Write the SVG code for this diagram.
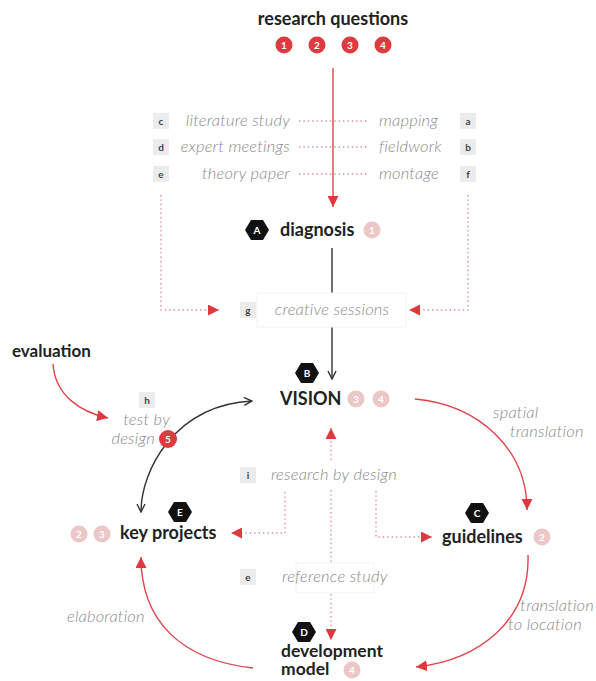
<svg xmlns="http://www.w3.org/2000/svg" width="596" height="681" viewBox="0 0 596 681">
<style>
.bold{font-family:Lato,"Open Sans","Liberation Sans",sans-serif;font-weight:700;fill:#222;}
.ital{font-family:Lato,"Open Sans","Liberation Sans",sans-serif;font-style:italic;font-weight:300;font-size:16.5px;letter-spacing:0.2px;fill:#8a8a8a;}
.tag rect{fill:#ececec;}
.tag text{font-family:Lato,"Liberation Sans",sans-serif;font-weight:700;font-size:10px;fill:#444;text-anchor:middle;}
.hex polygon{fill:#111;}
.hex text{font-family:Lato,"Liberation Sans",sans-serif;font-weight:700;font-size:10px;fill:#fff;text-anchor:middle;}
.rq circle{fill:#de3b41;}
.pk circle{fill:#ebc7c8;}
.num{font-family:Lato,"Liberation Sans",sans-serif;font-weight:700;font-size:10px;fill:#fff;text-anchor:middle;}
.red{fill:none;stroke:#e0444b;stroke-width:1.4;}
.dot{fill:none;stroke:#dc8e9a;stroke-width:1.4;stroke-dasharray:1.4 3;}
.blk{fill:none;stroke:#333;stroke-width:1.4;}
.faint{fill:none;stroke:#f3f3f3;stroke-width:1;}
</style>
<defs>
<marker id="ar" viewBox="0 0 10 10" refX="10" refY="5" markerWidth="11" markerHeight="11" markerUnits="userSpaceOnUse" orient="auto"><path d="M0,0 L10,5 L0,10 z" fill="#e0383f"/></marker>
<marker id="ab" viewBox="0 0 10 10" refX="9" refY="5" markerWidth="10" markerHeight="10" markerUnits="userSpaceOnUse" orient="auto-start-reverse"><path d="M1,1 L9,5 L1,9" fill="none" stroke="#333" stroke-width="1.4"/></marker>
</defs>

<g id="connectors">
<line class="red" x1="333" y1="68" x2="333" y2="207" marker-end="url(#ar)"/>
<line class="dot" x1="299" y1="121" x2="368" y2="121"/>
<line class="dot" x1="299" y1="147" x2="368" y2="147"/>
<line class="dot" x1="299" y1="174" x2="368" y2="174"/>
<path class="dot" d="M161 195 V310 H219" marker-end="url(#ar)"/>
<path class="dot" d="M468 195 V310 H409" marker-end="url(#ar)"/>
<line class="blk" x1="332" y1="248" x2="332" y2="293"/>
<line class="blk" x1="332" y1="327" x2="332" y2="379" marker-end="url(#ab)"/>
<path class="red" d="M53 364 C 55 395, 80 412, 108 418" marker-end="url(#ar)"/>
<path class="blk" d="M141 512 C 141 470, 175 405, 252 401" marker-start="url(#ab)" marker-end="url(#ab)"/>
<path class="red" d="M415 399 C 480 405, 527 450, 527 510" marker-end="url(#ar)"/>
<path class="red" d="M528 555 C 530 620, 480 660, 416 667" marker-end="url(#ar)"/>
<path class="red" d="M253 668 C 180 660, 141 620, 141 557" marker-end="url(#ar)"/>
<path class="dot" d="M331 460 V428" marker-end="url(#ar)"/>
<path class="dot" d="M331 490 V562"/>
<path class="dot" d="M331 594 V640" marker-end="url(#ar)"/>
<path class="dot" d="M285 492 V533 H231" marker-end="url(#ar)"/>
<path class="dot" d="M376 491 V537 H432" marker-end="url(#ar)"/>
</g>

<g id="research-questions">
<text class="bold" x="333" y="25" font-size="18" text-anchor="middle">research questions</text>
<g class="rq">
<circle cx="284" cy="45" r="8.5"/><circle cx="317" cy="45" r="8.5"/><circle cx="350" cy="45" r="8.5"/><circle cx="383" cy="45" r="8.5"/>
</g>
<text class="num" x="284" y="49">1</text><text class="num" x="317" y="49">2</text><text class="num" x="350" y="49">3</text><text class="num" x="383" y="49">4</text>
</g>

<g id="methods-left">
<g class="tag"><rect x="153" y="113" width="16" height="16"/><text x="161" y="125">c</text></g>
<g class="tag"><rect x="153" y="139" width="16" height="16"/><text x="161" y="151">d</text></g>
<g class="tag"><rect x="153" y="166" width="16" height="16"/><text x="161" y="178">e</text></g>
<text class="ital" x="290" y="126" text-anchor="end">literature study</text>
<text class="ital" x="290" y="152" text-anchor="end">expert meetings</text>
<text class="ital" x="290" y="179" text-anchor="end">theory paper</text>
</g>

<g id="methods-right">
<g class="tag"><rect x="460" y="113" width="16" height="16"/><text x="468" y="125">a</text></g>
<g class="tag"><rect x="460" y="139" width="16" height="16"/><text x="468" y="151">b</text></g>
<g class="tag"><rect x="460" y="166" width="16" height="16"/><text x="468" y="178">f</text></g>
<text class="ital" x="379" y="126">mapping</text>
<text class="ital" x="379" y="152">fieldwork</text>
<text class="ital" x="379" y="179">montage</text>
</g>

<g id="diagnosis">
<g class="hex"><polygon points="245,230 251,220 263,220 269,230 263,240 251,240"/><text x="257" y="234">A</text></g>
<text class="bold" x="280" y="236" font-size="18">diagnosis</text>
<g class="pk"><circle cx="372" cy="230" r="8.5"/></g><text class="num" x="372" y="234">1</text>
</g>

<g id="creative-sessions">
<rect class="faint" x="257" y="293" width="149" height="34"/>
<g class="tag"><rect x="240" y="302" width="16" height="16"/><text x="248" y="314">g</text></g>
<text class="ital" x="332" y="315" text-anchor="middle">creative sessions</text>
</g>

<g id="vision">
<g class="hex"><polygon points="295,373 301,363 313,363 319,373 313,383 301,383"/><text x="307" y="377">B</text></g>
<text class="bold" x="280" y="405" font-size="18">VISION</text>
<g class="pk"><circle cx="356" cy="399" r="8.5"/><circle cx="381" cy="399" r="8.5"/></g>
<text class="num" x="356" y="403">3</text><text class="num" x="381" y="403">4</text>
</g>

<g id="evaluation">
<text class="bold" x="12" y="357" font-size="17">evaluation</text>
</g>

<g id="test-by-design">
<g class="tag"><rect x="139" y="392" width="16" height="16"/><text x="147" y="404">h</text></g>
<text class="ital" x="170" y="425" text-anchor="end">test by</text>
<text class="ital" x="155" y="444" text-anchor="end">design</text>
<circle cx="168" cy="439" r="9" fill="#de3b41"/><text class="num" x="168" y="443">5</text>
</g>

<g id="spatial-translation-label">
<text class="ital" x="493" y="418">spatial</text>
<text class="ital" x="510" y="437">translation</text>
</g>

<g id="research-by-design">
<g class="tag"><rect x="240" y="467" width="16" height="16"/><text x="248" y="479">i</text></g>
<text class="ital" x="397" y="480" text-anchor="end">research by design</text>
</g>

<g id="key-projects">
<g class="hex"><polygon points="168,512 174,502 186,502 192,512 186,522 174,522"/><text x="180" y="516">E</text></g>
<text class="bold" x="120" y="539" font-size="18">key projects</text>
<g class="pk"><circle cx="79" cy="534" r="8.5"/><circle cx="102" cy="534" r="8.5"/></g>
<text class="num" x="79" y="538">2</text><text class="num" x="102" y="538">3</text>
</g>

<g id="guidelines">
<g class="hex"><polygon points="465,513 471,503 483,503 489,513 483,523 471,523"/><text x="477" y="517">C</text></g>
<text class="bold" x="442" y="543" font-size="18">guidelines</text>
<g class="pk"><circle cx="542" cy="537" r="8.5"/></g><text class="num" x="542" y="541">2</text>
</g>

<g id="reference-study">
<rect class="faint" x="296" y="563" width="78" height="30"/>
<g class="tag"><rect x="240" y="569" width="16" height="16"/><text x="248" y="581">e</text></g>
<text class="ital" x="282" y="582">reference study</text>
</g>

<g id="elaboration-label">
<text class="ital" x="67" y="622">elaboration</text>
</g>

<g id="translation-location-label">
<text class="ital" x="594" y="611" text-anchor="end">translation</text>
<text class="ital" x="508" y="630">to location</text>
</g>

<g id="development-model">
<g class="hex"><polygon points="292,632 298,622 310,622 316,632 310,642 298,642"/><text x="304" y="636">D</text></g>
<text class="bold" x="281" y="657" font-size="17.5">development</text>
<text class="bold" x="281" y="675" font-size="17.5">model</text>
<g class="pk"><circle cx="352" cy="670" r="8.5"/></g><text class="num" x="352" y="674">4</text>
</g>
</svg>
